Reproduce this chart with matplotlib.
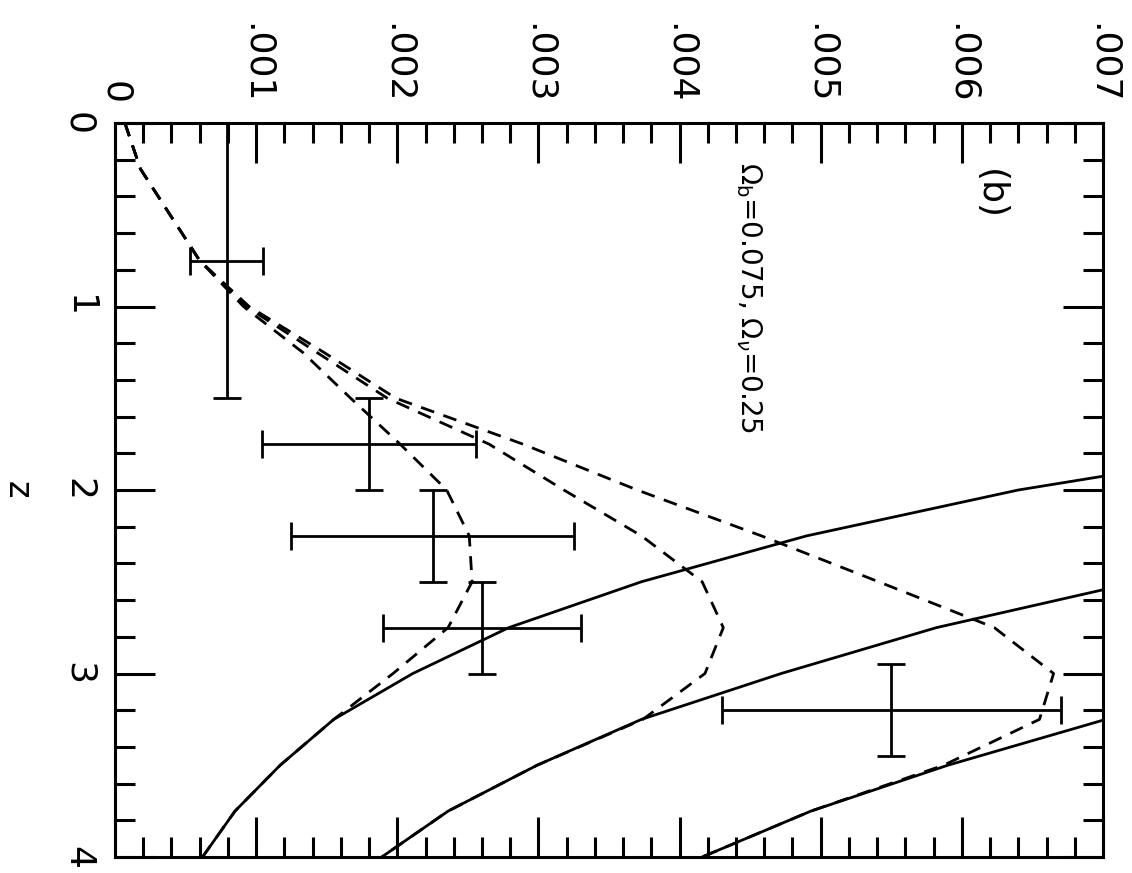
import numpy as np
import matplotlib
matplotlib.use('Agg')
from matplotlib import pyplot as plt

# -----------------------------
# data: values vs redshift z (plot is drawn turned on its side)
# -----------------------------
z_model = [0.0, 0.25, 0.5, 0.75, 1.0, 1.25, 1.5, 1.75, 2.0,
           2.25, 2.5, 2.75, 3.0, 3.25, 3.5, 3.75, 4.0]

# dashed curves
dash_inner = [0.00007, 0.00018, 0.00039, 0.00060, 0.00091, 0.00133, 0.00167, 0.00202, 0.00235,
              0.00251, 0.00253, 0.00236, 0.00197, 0.00155, 0.00117, 0.00085, 0.00062]
dash_middle = [0.00007, 0.00018, 0.00039, 0.00060, 0.00093, 0.00143, 0.00193, 0.00265, 0.00318,
               0.00373, 0.00416, 0.00431, 0.00418, 0.00374, 0.00299, 0.00236, 0.00189]
dash_outer = [0.00007, 0.00018, 0.00039, 0.00060, 0.00095, 0.00148, 0.00199, 0.00289, 0.00370,
              0.00458, 0.00541, 0.00623, 0.00665, 0.00655, 0.00587, 0.00493, 0.00416]

# solid curves (start above the top of the value range)
z_solid1 = [1.75, 2.0, 2.25, 2.5, 2.75, 3.0, 3.25, 3.5, 3.75, 4.0]
solid1 = [0.0084, 0.0064, 0.0049, 0.00373, 0.00279, 0.00211, 0.00155, 0.00117, 0.00085, 0.00062]
z_solid2 = [2.5, 2.75, 3.0, 3.25, 3.5, 3.75, 4.0]
solid2 = [0.00725, 0.00582, 0.00472, 0.00373, 0.00299, 0.00236, 0.00189]
z_solid3 = [3.0, 3.25, 3.5, 3.75, 4.0]
solid3 = [0.0084, 0.00702, 0.0059, 0.00493, 0.00416]

# measurements with errors
obs_z = [0.75, 1.75, 2.25, 2.75, 3.2]
obs_z_err = [0.75, 0.25, 0.25, 0.25, 0.25]
obs_val = [0.00079, 0.0018, 0.00225, 0.0026, 0.0055]
obs_val_err = [0.00026, 0.00076, 0.0010, 0.0007, 0.0012]

value_ticks = [0, 0.001, 0.002, 0.003, 0.004, 0.005, 0.006, 0.007]
value_labels = ['0', '.001', '.002', '.003', '.004', '.005', '.006', '.007']
z_ticks = [0, 1, 2, 3, 4]
z_labels = ['0', '1', '2', '3', '4']

plt.rcParams['font.family'] = 'DejaVu Sans'
plt.rcParams['mathtext.fontset'] = 'dejavusans'

fig = plt.figure(figsize=(11.32, 8.73), dpi=100)
ax = fig.add_axes([115 / 1132, 1 - 857 / 873, 988 / 1132, 734 / 873])

lw = 2.0
for zz, vv in [(z_solid1, solid1), (z_solid2, solid2), (z_solid3, solid3)]:
    ax.plot(vv, zz, '-', color='k', lw=lw)
for vv in [dash_inner, dash_middle, dash_outer]:
    ax.plot(vv, z_model, '--', color='k', lw=lw, dashes=(5, 3.5))

ax.errorbar(obs_val, obs_z, xerr=obs_val_err, yerr=obs_z_err, fmt='none',
            ecolor='k', elinewidth=lw, capsize=10, capthick=lw, clip_on=False)

ax.set_xlim(0, 0.007)
ax.set_ylim(4, 0)

ax.xaxis.tick_top()
ax.set_xticks(value_ticks)
ax.set_xticklabels(value_labels, rotation=-90)
ax.set_xticks(np.arange(0, 0.00701, 0.0002), minor=True)
ax.set_yticks(z_ticks)
ax.set_yticklabels(z_labels, rotation=-90, va='center')
ax.set_yticks(np.arange(0, 4.01, 0.2), minor=True)

ax.tick_params(which='both', direction='in', top=True, bottom=True, left=True, right=True,
               labeltop=True, labelbottom=False, labelleft=True, labelright=False,
               width=2.2, labelsize=26, pad=14)
ax.tick_params(which='major', length=29)
ax.tick_params(which='minor', length=14.5)
for s in ax.spines.values():
    s.set_linewidth(2.2)

ax.text(0.0062, 0.39, '(b)', rotation=-90, ha='center', va='center', fontsize=26)
ax.text(0.00449, 0.954, r'$\Omega_\mathrm{b}$=0.075, $\Omega_\nu$=0.25', rotation=-90,
        ha='center', va='center', fontsize=20)
fig.text(17 / 1132, 1 - 490 / 873, 'z', rotation=-90, ha='center', va='center', fontsize=24)

plt.savefig('out.png', dpi=100)
